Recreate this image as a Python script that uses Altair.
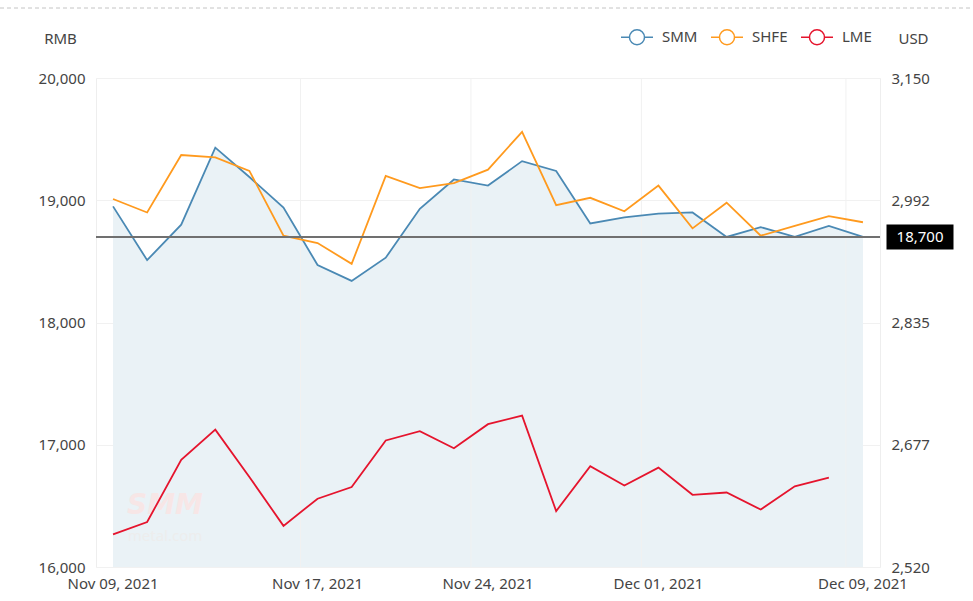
import altair as alt
import pandas as pd

dates = ["Nov 09, 2021", "Nov 10, 2021", "Nov 11, 2021", "Nov 12, 2021", "Nov 15, 2021",
         "Nov 16, 2021", "Nov 17, 2021", "Nov 18, 2021", "Nov 19, 2021", "Nov 22, 2021",
         "Nov 23, 2021", "Nov 24, 2021", "Nov 25, 2021", "Nov 26, 2021", "Nov 29, 2021",
         "Nov 30, 2021", "Dec 01, 2021", "Dec 02, 2021", "Dec 03, 2021", "Dec 06, 2021",
         "Dec 07, 2021", "Dec 08, 2021", "Dec 09, 2021"]
smm = [18950, 18510, 18800, 19430, 19190, 18940, 18470, 18340, 18530, 18930, 19170, 19120,
       19320, 19240, 18810, 18860, 18890, 18900, 18700, 18780, 18700, 18790, 18700]
shfe = [19010, 18900, 19370, 19350, 19240, 18710, 18650, 18480, 19200, 19100, 19140, 19250,
        19560, 18960, 19020, 18910, 19120, 18770, 18980, 18710, 18790, 18870, 18820]
lme = [2562, 2578, 2658, 2697, 2636, 2573, 2608, 2623, 2683, 2695, 2673, 2704,
       2715, 2592, 2650, 2625, 2648, 2613, 2616, 2594, 2624, 2635, None]
series_names = ["SMM", "SHFE", "LME"]
series_colors = ["#4a89b4", "#ff9a1e", "#e5142d"]
label_dates = [dates[0], dates[6], dates[11], dates[16], dates[22]]
grid_dates = [dates[6], dates[11], dates[16], dates[22]]
left_ticks = [16000, 17000, 18000, 19000, 20000]
right_ticks = [2520, 2677.5, 2835, 2992.5, 3150]
left_min = 16000
ref_level = 18700
ref_label = "18,700"

FONT = "Noto Sans"
FS = 15

left_rows = []
for d, a, b in zip(dates, smm, shfe):
    left_rows.append({"date": d, "series": "SMM", "value": a})
    left_rows.append({"date": d, "series": "SHFE", "value": b})
left_df = pd.DataFrame(left_rows)
smm_df = pd.DataFrame({"date": dates, "value": smm})
lme_df = pd.DataFrame([{"date": d, "series": "LME", "value": v} for d, v in zip(dates, lme) if v is not None])
grid_df = pd.DataFrame({"date": grid_dates})
ref_df = pd.DataFrame({"level": [ref_level], "label": [ref_label]})
one = pd.DataFrame({"k": [0]})

xscale = alt.Scale(type="band", domain=dates, paddingInner=0, paddingOuter=0)
xaxis = alt.Axis(values=label_dates, labelAngle=0, ticks=False, domain=False, grid=False,
                 title=None, labelPadding=9, labelFontSize=FS, labelColor="#444", labelFont=FONT)
yleft = alt.Scale(domain=[16000, 20000], nice=False, zero=False)
yright = alt.Scale(domain=[2520, 3150], nice=False, zero=False)
color_scale = alt.Scale(domain=series_names, range=series_colors)

left_axis = alt.Axis(title="RMB", titleAngle=0, titleX=-36, titleY=-40, titleAlign="center",
                     titleBaseline="middle", titleFontSize=FS, titleFontWeight="normal",
                     titleColor="#444", titleFont=FONT, values=left_ticks,
                     labelExpr="format(datum.value, ',')",
                     grid=True, gridColor="#f1f1f1", domain=False, ticks=False,
                     labelPadding=11, labelFontSize=FS, labelColor="#444", labelFont=FONT)

legend_path = ("M-1,0 L-0.47,0 M0.47,0 L1,0 "
               "M-0.47,0 A0.47,0.47 0 1 1 0.47,0 A0.47,0.47 0 1 1 -0.47,0")
legend = alt.Legend(title=None, orient="none", direction="horizontal", legendX=524, legendY=-58,
                    symbolType=legend_path, symbolSize=1024, symbolStrokeWidth=1.5,
                    symbolFillColor="white", labelFontSize=FS, labelColor="#444", labelFont=FONT,
                    labelOffset=8, columnPadding=10, padding=0)

X = lambda **kw: alt.X("date:N", scale=xscale, axis=xaxis, sort=dates, **kw)
YL = lambda f: alt.Y(f, scale=yleft, axis=left_axis)

area = alt.Chart(smm_df).mark_area(color="#eaf2f6", opacity=1).encode(
    x=X(),
    y=YL("value:Q"),
    y2=alt.Y2(datum=left_min),
)

grid = alt.Chart(grid_df).mark_rule(color="#f1f1f1", strokeWidth=1).encode(
    x=X(bandPosition=0),
)

lines = alt.Chart(left_df).mark_line(strokeWidth=1.8).encode(
    x=X(),
    y=YL("value:Q"),
    color=alt.Color("series:N", scale=color_scale, legend=legend),
    detail="series:N",
)

rule = alt.Chart(ref_df).mark_rule(color="#707070", strokeWidth=2).encode(
    y=YL("level:Q"),
)

box_path = "M-1,-0.373 L1,-0.373 L1,0.373 L-1,0.373 Z"
box = alt.Chart(ref_df).mark_point(shape=box_path, filled=True, color="black", opacity=1,
                                   size=4489, strokeWidth=0).encode(
    x=alt.value(824),
    y=YL("level:Q"),
)
box_text = alt.Chart(ref_df).mark_text(color="white", fontSize=FS, font=FONT).encode(
    x=alt.value(824),
    y=YL("level:Q"),
    text="label:N",
)

topline = alt.Chart(one).mark_rule(color="#c4c4c4", strokeDash=[4, 3], strokeWidth=1).encode(
    x=alt.value(-96), x2=alt.value(877), y=alt.value(-70),
)

wm1 = alt.Chart(one).mark_text(text="SMM", fontSize=28, fontWeight="bold", fontStyle="italic",
                               color="#f7e6e6", font="DejaVu Sans").encode(
    x=alt.value(69), y=alt.value(428))
wm2 = alt.Chart(one).mark_text(text="metal.com", fontSize=15, color="#ededed", font=FONT).encode(
    x=alt.value(69), y=alt.value(458))

left_layer = alt.layer(area, grid, wm1, wm2, lines, rule, box, box_text, topline)

lme_line = alt.Chart(lme_df).mark_line(strokeWidth=1.8).encode(
    x=X(),
    y=alt.Y("value:Q", scale=yright,
            axis=alt.Axis(orient="right", title="USD", titleAngle=0, titleX=33, titleY=-40,
                          titleAlign="center", titleBaseline="middle", titleFontSize=FS,
                          titleFontWeight="normal", titleColor="#444", titleFont=FONT,
                          values=right_ticks, labelExpr="format(floor(datum.value), ',')",
                          grid=False, domain=False, ticks=False, labelPadding=11,
                          labelFontSize=FS, labelColor="#444", labelFont=FONT)),
    color=alt.Color("series:N", scale=color_scale, legend=legend),
)

chart = alt.layer(left_layer, lme_line).resolve_scale(y="independent").properties(
    width=784, height=489,
    padding={"left": 96, "top": 78, "right": 93, "bottom": 34},
    autosize=alt.AutoSizeParams(type="none"),
    background="white",
).configure_view(stroke="#eeeeee", strokeWidth=1)

chart.save("out.html", embed_options={"renderer": "svg", "actions": False})
